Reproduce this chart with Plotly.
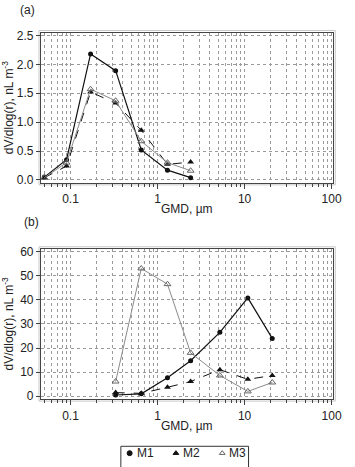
import plotly.graph_objects as go
from plotly.subplots import make_subplots

# Panel (a)
gmd_a = [0.05, 0.09, 0.17, 0.33, 0.65, 1.3, 2.4]
m1_a = [0.05, 0.35, 2.18, 1.89, 0.52, 0.17, 0.04]
m2_a = [0.04, 0.24, 1.52, 1.33, 0.86, 0.27, 0.31]
m3_a = [0.04, 0.30, 1.57, 1.37, 0.67, 0.30, 0.16]

# Panel (b)
gmd_b = [0.33, 0.65, 1.3, 2.4, 5.2, 10.9, 20.8]
m1_b = [0.5, 1.0, 7.7, 14.7, 26.5, 40.8, 24.0]
m2_b = [1.5, 1.2, 3.7, 6.1, 11.0, 7.0, 8.6]
m3_b = [6.1, 53.0, 46.5, 18.0, 8.6, 2.0, 5.7]

names = ["M1", "M2", "M3"]

FONT = "Liberation Sans, Arial, sans-serif"
TXT = "#222222"
W, H = 355, 467

styles = {
    "M1": dict(line=dict(color="#111111", width=1.2), marker=dict(symbol="circle", size=5, color="#111111")),
    "M2": dict(line=dict(color="#111111", width=1, dash="dash"), marker=dict(symbol="triangle-up", size=6, color="#111111")),
    "M3": dict(line=dict(color="#8a8a8a", width=1), marker=dict(symbol="triangle-up-open", size=6, color="#666666", line=dict(width=1))),
}

fig = make_subplots(rows=2, cols=1, vertical_spacing=0.1)

for name, ys in zip(names, [m1_a, m2_a, m3_a]):
    fig.add_trace(go.Scatter(x=gmd_a, y=ys, mode="lines+markers", name=name, showlegend=False, **styles[name]), row=1, col=1)
for name, ys in zip(names, [m1_b, m2_b, m3_b]):
    fig.add_trace(go.Scatter(x=gmd_b, y=ys, mode="lines+markers", name=name, showlegend=False, **styles[name]), row=2, col=1)

# Custom legend keys on a hidden categorical axis
leg_sym = [styles[n]["marker"]["symbol"] for n in names]
leg_col = [styles[n]["marker"]["color"] for n in names]
fig.add_trace(go.Scatter(x=names, y=[0.5] * 3, mode="markers", xaxis="x3", yaxis="y3", showlegend=False,
                         marker=dict(symbol=leg_sym, size=5, color=leg_col, line=dict(width=1, color=leg_col)),
                         hoverinfo="skip"))

xdom = [42 / W, 342 / W]
grid = "#9a9a9a"
xcommon = dict(
    type="log", range=[-1.34, 2.02], dtick=1, domain=xdom,
    showgrid=True, gridcolor=grid, griddash="dot", gridwidth=1,
    ticks="outside", ticklen=5, tickcolor="#444",
    showline=True, mirror=True, linecolor="#444", linewidth=1,
    tickfont=dict(size=12, color=TXT, family=FONT),
    minor=dict(dtick="D1", showgrid=True, gridcolor=grid, griddash="dot", ticks="outside", ticklen=3, tickcolor="#444"),
    zeroline=False,
)
ycommon = dict(
    showgrid=True, gridcolor=grid, griddash="dot", gridwidth=1,
    ticks="outside", ticklen=4, tickcolor="#444",
    showline=True, mirror=True, linecolor="#444", linewidth=1,
    tickfont=dict(size=12, color=TXT, family=FONT),
    title=dict(text="dV/dlog(r), nL m<sup>-3</sup>", font=dict(size=12, color=TXT, family=FONT), standoff=4),
    zeroline=False,
)

fig.update_xaxes(**xcommon, row=1, col=1)
fig.update_xaxes(**xcommon, row=2, col=1)
fig.update_yaxes(**ycommon, row=1, col=1)
fig.update_yaxes(**ycommon, row=2, col=1)
top_a, bot_a = 29, 182
top_b, bot_b = 249, 402
fig.update_yaxes(range=[-0.05, 2.55], dtick=0.5, tickformat=".1f", domain=[(H - bot_a) / H, (H - top_a) / H], row=1, col=1)
fig.update_yaxes(range=[-1.2, 61.2], dtick=10, domain=[(H - bot_b) / H, (H - top_b) / H], row=2, col=1)

fig.update_layout(
    xaxis3=dict(domain=[109.25 / W, 251.75 / W], range=[-0.5, 2.5], type="category", visible=False, fixedrange=True),
    yaxis3=dict(domain=[(H - 462) / H, (H - 452) / H], range=[0, 1], visible=False, fixedrange=True, anchor="x3"),
)

def ann(text, px, py, anchor="center", **kw):
    fig.add_annotation(text=text, x=px / W, y=1 - py / H, xref="paper", yref="paper", xanchor=anchor, yanchor="middle",
                       showarrow=False, font=dict(size=12, color=TXT, family=FONT), **kw)

ann("(a)", 18, 6, "left")
ann("(b)", 23, 222, "left")
ann("GMD, µm", 192, 209)
ann("GMD, µm", 192, 429)

for n in names:
    fig.add_annotation(text=n, x=n, y=0.5, xref="x3", yref="y3", xanchor="left", yanchor="middle", xshift=5,
                       showarrow=False, font=dict(size=12, color=TXT, family=FONT))

# legend box
fig.add_shape(type="rect", xref="paper", yref="paper", x0=124 / W, x1=255 / W, y0=-0.02, y1=(H - 450) / H,
              line=dict(color="#333", width=1), fillcolor="rgba(0,0,0,0)")
# light outer frames around plots
for top, bot in [(top_a, bot_a), (top_b, bot_b)]:
    fig.add_shape(type="rect", xref="paper", yref="paper", x0=(42 - 2) / W, x1=(342 + 2) / W,
                  y0=(H - bot - 2) / H, y1=(H - top + 2) / H, line=dict(color="#c8c8c8", width=1), layer="below")

fig.update_layout(
    width=W, height=H,
    margin=dict(l=0, r=0, t=0, b=0),
    paper_bgcolor="white", plot_bgcolor="white",
    showlegend=False,
    font=dict(family=FONT),
)

fig.write_html("out.html")
